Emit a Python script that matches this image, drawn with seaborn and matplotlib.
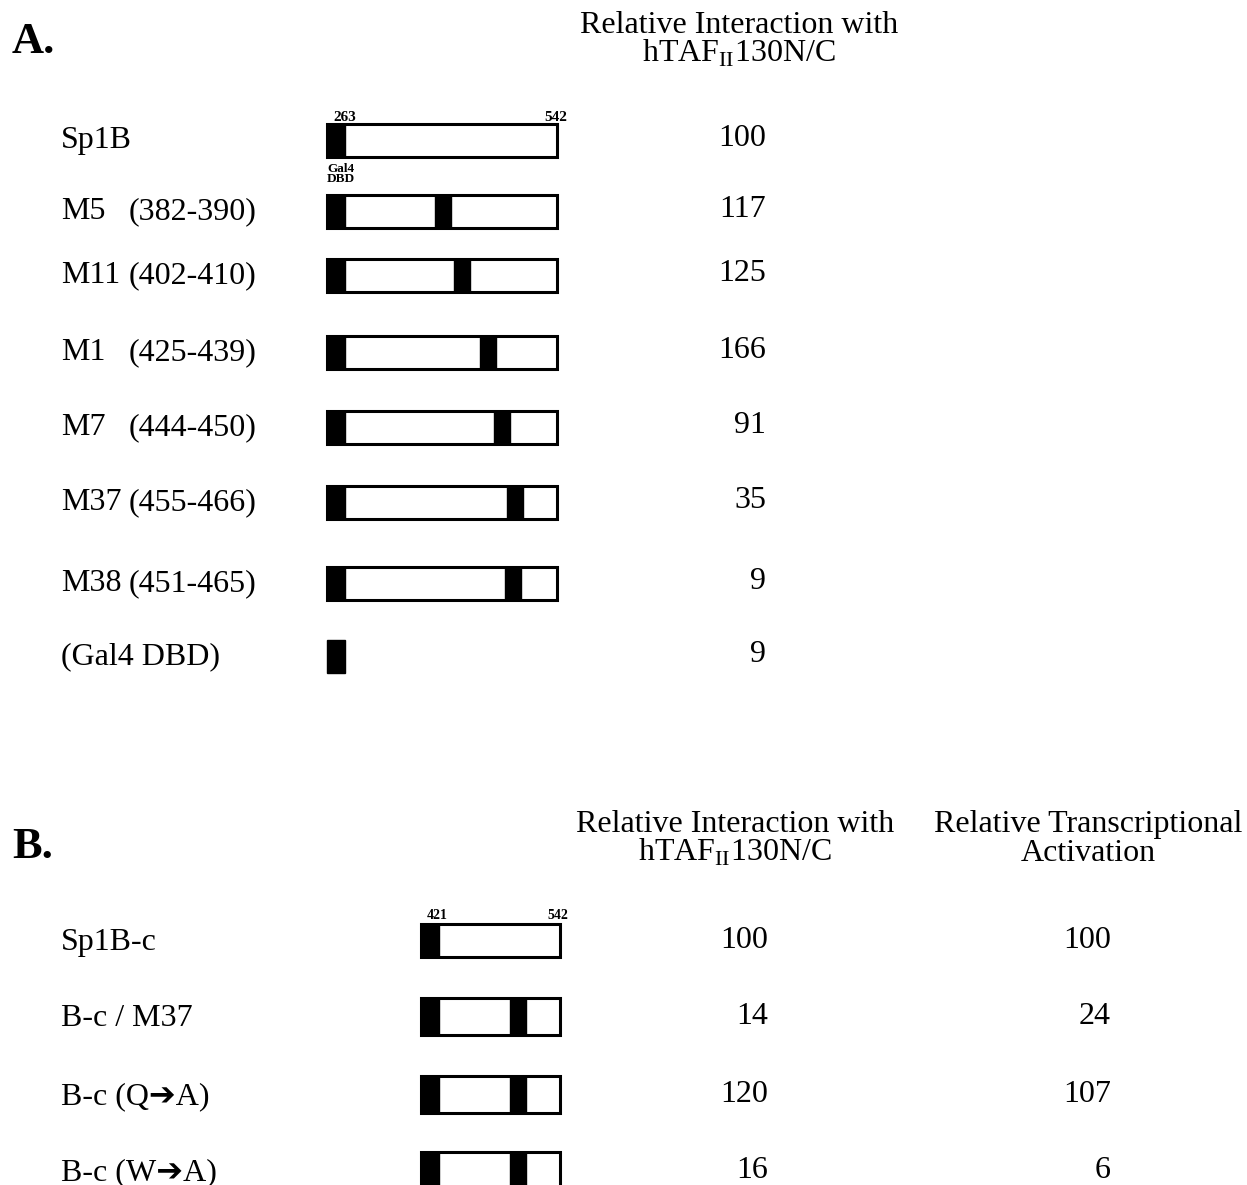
import numpy as np
import matplotlib
matplotlib.use('Agg')
import matplotlib.pyplot as plt
import seaborn as sns

sns.set_style('white')
plt.rcParams['font.family'] = ['Liberation Serif', 'DejaVu Sans']
plt.rcParams['mathtext.fontset'] = 'custom'
plt.rcParams['mathtext.rm'] = 'Liberation Serif'
plt.rcParams['text.color'] = 'black'

# Panel A data: Sp1B (263-542) fused to Gal4 DBD, and its mutants
a_names = ['Sp1B', 'M5', 'M11', 'M1', 'M7', 'M37', 'M38', '(Gal4 DBD)']
a_ranges = ['', '(382-390)', '(402-410)', '(425-439)', '(444-450)',
            '(455-466)', '(451-465)', '']
a_mut_start = [np.nan, 382, 402, 425, 444, 455, 451, np.nan]
a_mut_end = [np.nan, 390, 410, 439, 450, 466, 465, np.nan]
a_has_sp1 = [True, True, True, True, True, True, True, False]
a_interaction = [100, 117, 125, 166, 91, 35, 9, 9]
a_first, a_last = 263, 542

# Panel B data: Sp1B-c (421-542) and its mutants
b_names = ['Sp1B-c', 'B-c / M37', 'B-c (Q\u2794A)', 'B-c (W\u2794A)']
b_mut_start = [np.nan, 455, 455, 455]
b_mut_end = [np.nan, 466, 466, 466]
b_interaction = [100, 14, 120, 16]
b_activation = [100, 24, 107, 6]
b_first, b_last = 421, 542

hdr_interaction = 'Relative Interaction with\nhTAF$_{\\mathrm{II}}$130N/C'
hdr_activation = 'Relative Transcriptional\nActivation'

# layout (pixel coordinates)
W, H = 1247, 1185
a_rows = [140, 211, 275, 352, 427, 502, 583, 656]
b_rows = [940, 1016, 1094, 1170]
b_heights = [33, 37, 37, 37]
gal4_w = 18
mut_w = 16
FS = 23

fig = plt.figure(figsize=(W / 100, H / 100), dpi=100)
ax = fig.add_axes([0, 0, 1, 1])
ax.set_xlim(0, W)
ax.set_ylim(H, 0)
ax.axis('off')

# diagrams are schematic, not to scale: piecewise residue -> pixel scale
def scale_a(r):
    return np.interp(r, [263, 386, 460, 542], [345, 443, 515, 557])

def scale_b(r):
    return np.interp(r, [421, 460.5, 542], [439, 517.5, 560])

def draw_construct(y, h, x0, scale, last, has_sp1, ms, me):
    if has_sp1:
        ax.barh(y, scale(last) - x0, left=x0, height=h, color='white',
                edgecolor='black', linewidth=2.2, zorder=1)
    ax.barh(y, gal4_w, left=x0, height=h, color='black',
            edgecolor='black', linewidth=1, zorder=2)
    if not np.isnan(ms):
        xc = scale((ms + me) / 2)
        ax.barh(y, mut_w, left=xc - mut_w / 2, height=h, color='black',
                edgecolor='black', linewidth=1, zorder=2)

def header(x, y, s, ls):
    # y is the baseline of the last line
    ax.text(x, y, s, fontsize=FS, ha='center', va='baseline',
            multialignment='center', linespacing=ls)

# ---- Panel A
ax.text(12, 53, 'A.', fontsize=32, fontweight='bold', ha='left', va='baseline')
header(739, 62, hdr_interaction, 0.9)

for i, y in enumerate(a_rows):
    draw_construct(y, 33, 327, scale_a, a_last, a_has_sp1[i],
                   a_mut_start[i], a_mut_end[i])
    ax.text(61, y + 8, a_names[i], fontsize=FS, ha='left', va='baseline')
    if a_ranges[i]:
        ax.text(129, y + 8, a_ranges[i], fontsize=FS, ha='left', va='baseline')
    ax.text(766, y + 6, str(a_interaction[i]), fontsize=FS, ha='right', va='baseline')

ax.text(333, 121, str(a_first), fontsize=11, fontweight='bold', ha='left', va='baseline')
ax.text(567, 121, str(a_last), fontsize=11, fontweight='bold', ha='right', va='baseline')
ax.text(327, 163, 'Gal4\nDBD', fontsize=9.5, fontweight='bold', ha='left', va='top',
        linespacing=0.8)

# ---- Panel B
ax.text(12, 858, 'B.', fontsize=32, fontweight='bold', ha='left', va='baseline')
header(735, 861, hdr_interaction, 0.9)
header(1088, 861, hdr_activation, 0.98)

for i, y in enumerate(b_rows):
    draw_construct(y, b_heights[i], 421, scale_b, b_last, True,
                   b_mut_start[i], b_mut_end[i])
    ax.text(61, y + 10, b_names[i], fontsize=FS, ha='left', va='baseline')
    ax.text(768, y + 8, str(b_interaction[i]), fontsize=FS, ha='right', va='baseline')
    ax.text(1111, y + 8, str(b_activation[i]), fontsize=FS, ha='right', va='baseline')

ax.text(427, 919, str(b_first), fontsize=10, fontweight='bold', ha='left', va='baseline')
ax.text(568, 919, str(b_last), fontsize=10, fontweight='bold', ha='right', va='baseline')

fig.savefig('out.png', dpi=100, facecolor='white')
